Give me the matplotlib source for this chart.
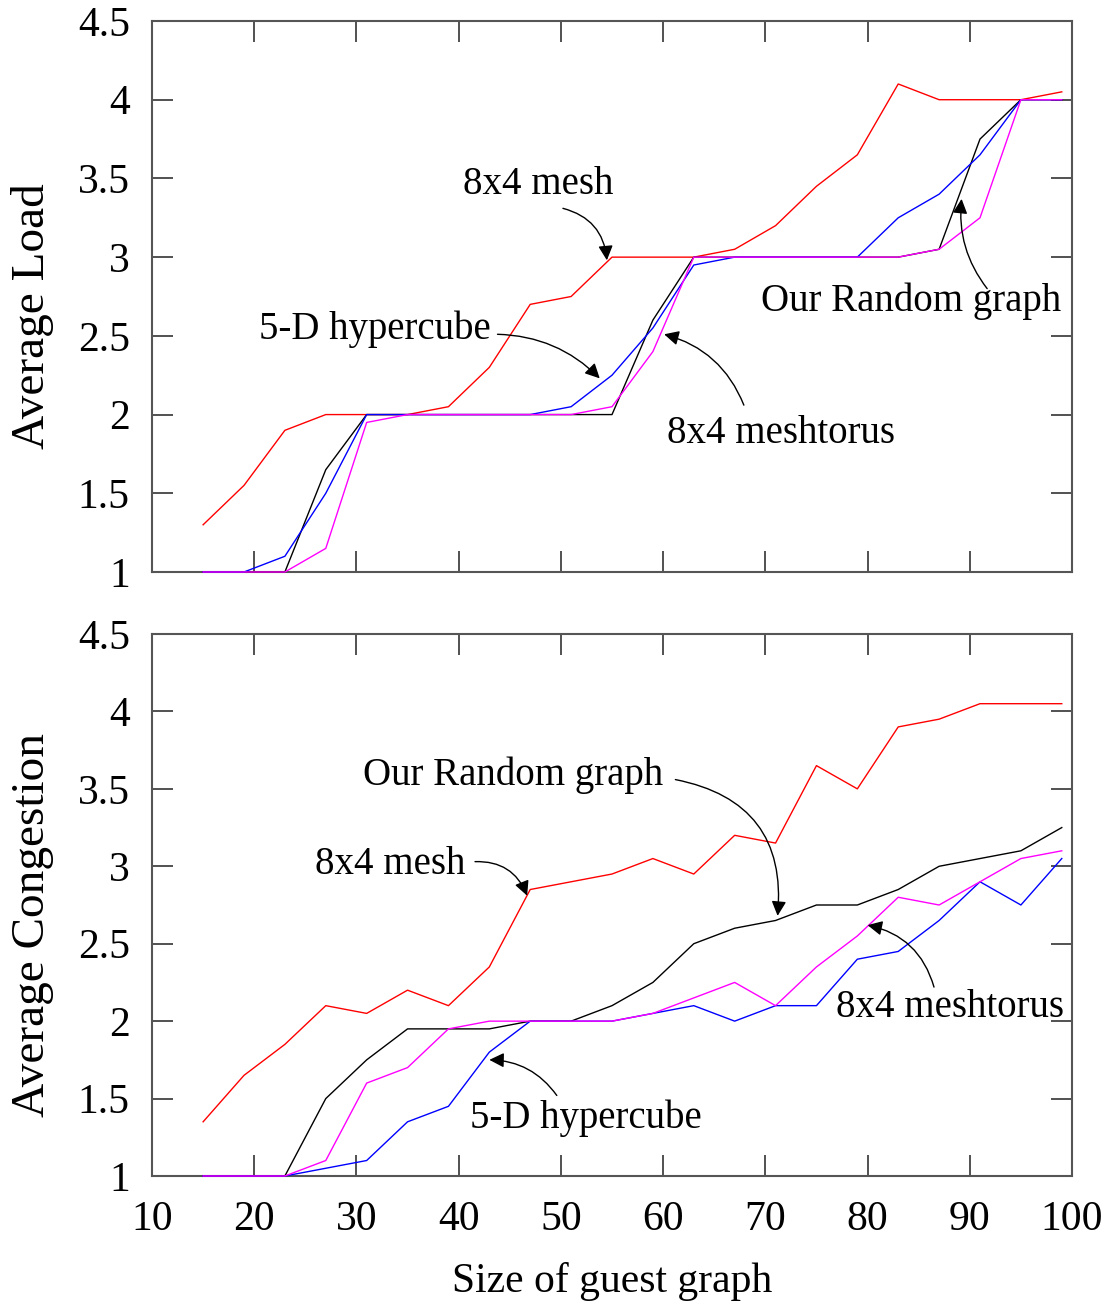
import matplotlib
matplotlib.use('Agg')
import matplotlib.pyplot as plt

plt.rcParams['font.family'] = ['Liberation Serif', 'DejaVu Serif']

# guest graph sizes
sizes = [15, 19, 23, 27, 31, 35, 39, 43, 47, 51, 55, 59, 63, 67, 71, 75, 79, 83, 87, 91, 95, 99]

# average load
load_mesh = [1.30, 1.55, 1.90, 2.0, 2.0, 2.0, 2.05, 2.30, 2.70, 2.75, 3.0,
             3.0, 3.0, 3.05, 3.20, 3.45, 3.65, 4.10, 4.0, 4.0, 4.0, 4.05]
load_hyper = [1.0, 1.0, 1.10, 1.50, 2.0, 2.0, 2.0, 2.0, 2.0, 2.05, 2.25,
              2.55, 2.95, 3.0, 3.0, 3.0, 3.0, 3.25, 3.40, 3.65, 4.0, 4.0]
load_random = [1.0, 1.0, 1.0, 1.65, 2.0, 2.0, 2.0, 2.0, 2.0, 2.0, 2.0,
               2.60, 3.0, 3.0, 3.0, 3.0, 3.0, 3.0, 3.05, 3.75, 4.0, 4.0]
load_torus = [1.0, 1.0, 1.0, 1.15, 1.95, 2.0, 2.0, 2.0, 2.0, 2.0, 2.05,
              2.40, 3.0, 3.0, 3.0, 3.0, 3.0, 3.0, 3.05, 3.25, 4.0, 4.0]

# average congestion
cong_mesh = [1.35, 1.65, 1.85, 2.10, 2.05, 2.20, 2.10, 2.35, 2.85, 2.90, 2.95,
             3.05, 2.95, 3.20, 3.15, 3.65, 3.50, 3.90, 3.95, 4.05, 4.05, 4.05]
cong_random = [1.0, 1.0, 1.0, 1.50, 1.75, 1.95, 1.95, 1.95, 2.0, 2.0, 2.10,
               2.25, 2.50, 2.60, 2.65, 2.75, 2.75, 2.85, 3.0, 3.05, 3.10, 3.25]
cong_torus = [1.0, 1.0, 1.0, 1.10, 1.60, 1.70, 1.95, 2.0, 2.0, 2.0, 2.0,
              2.05, 2.15, 2.25, 2.10, 2.35, 2.55, 2.80, 2.75, 2.90, 3.05, 3.10]
cong_hyper = [1.0, 1.0, 1.0, 1.05, 1.10, 1.35, 1.45, 1.80, 2.0, 2.0, 2.0,
              2.05, 2.10, 2.0, 2.10, 2.10, 2.40, 2.45, 2.65, 2.90, 2.75, 3.05]

yticks = [1, 1.5, 2, 2.5, 3, 3.5, 4, 4.5]
yticklabels = ['1', '1.5', '2', '2.5', '3', '3.5', '4', '4.5']
xticks = [10, 20, 30, 40, 50, 60, 70, 80, 90, 100]

fs = 30      # tick labels
fa = 28      # annotations
fl = 34      # axis labels

fig = plt.figure(figsize=(11.07, 13.06), dpi=100)
W, H = 1107, 1306
ax1 = fig.add_axes([152/W, 1 - 572/H, 920/W, 551/H])
ax2 = fig.add_axes([152/W, 1 - 1176/H, 920/W, 542/H])


def style(ax, show_x):
    ax.set_xlim(10, 100)
    ax.set_ylim(1, 4.5)
    ax.set_yticks(yticks)
    ax.set_yticklabels(yticklabels)
    ax.set_xticks(xticks)
    ax.tick_params(direction='in', length=15, width=1.2, top=True, right=True,
                   labelsize=fs, color='#333333')
    ax.tick_params(axis='y', pad=16)
    ax.tick_params(axis='x', pad=18)
    if not show_x:
        ax.tick_params(labelbottom=False)
    for s in ax.spines.values():
        s.set_color('#555555')
        s.set_linewidth(1.5)


def arrow(ax, start, end, rad):
    ax.annotate('', xy=end, xytext=start,
                arrowprops=dict(arrowstyle='-|>', color='black', lw=1.0,
                                mutation_scale=22,
                                connectionstyle='arc3,rad=%s' % rad,
                                shrinkA=0, shrinkB=0))


def lines(ax, series):
    for ys, c in series:
        ax.plot(sizes, ys, color=c, lw=1.0, clip_on=False, zorder=3)


lines(ax1, [(load_mesh, '#ff0000'), (load_random, 'black'),
            (load_hyper, '#0000ff'), (load_torus, '#ff00ff')])
style(ax1, False)
ax1.set_ylabel('Average Load', fontsize=fl)
ax1.yaxis.set_label_coords(-0.107, 0.464)

ax1.text(47.8, 3.46, '8x4 mesh', fontsize=fa, ha='center', va='center')
arrow(ax1, (50.2, 3.31), (54.5, 2.98), -0.35)
ax1.text(31.8, 2.54, '5-D hypercube', fontsize=fa, ha='center', va='center')
arrow(ax1, (43.8, 2.51), (53.8, 2.23), -0.2)
ax1.text(71.5, 1.88, '8x4 meshtorus', fontsize=fa, ha='center', va='center')
arrow(ax1, (67.9, 2.06), (60.1, 2.51), 0.25)
ax1.text(84.3, 2.72, 'Our Random graph', fontsize=fa, ha='center', va='center')
arrow(ax1, (91.7, 2.80), (89.2, 3.37), -0.2)

lines(ax2, [(cong_mesh, '#ff0000'), (cong_random, 'black'),
            (cong_hyper, '#0000ff'), (cong_torus, '#ff00ff')])
style(ax2, True)
ax2.set_ylabel('Average Congestion', fontsize=fl)
ax2.yaxis.set_label_coords(-0.107, 0.464)
ax2.set_xlabel('Size of guest graph', fontsize=fs, labelpad=16)

ax2.text(45.3, 3.59, 'Our Random graph', fontsize=fa, ha='center', va='center')
arrow(ax2, (61.2, 3.56), (71.2, 2.68), -0.45)
ax2.text(33.3, 3.01, '8x4 mesh', fontsize=fa, ha='center', va='center')
arrow(ax2, (41.6, 3.03), (46.7, 2.81), -0.35)
ax2.text(52.4, 1.37, '5-D hypercube', fontsize=fa, ha='center', va='center')
arrow(ax2, (49.6, 1.52), (43.0, 1.75), 0.25)
ax2.text(88.1, 2.09, '8x4 meshtorus', fontsize=fa, ha='center', va='center')
arrow(ax2, (86.5, 2.22), (80.0, 2.62), 0.3)

fig.savefig('out.png', dpi=100)
